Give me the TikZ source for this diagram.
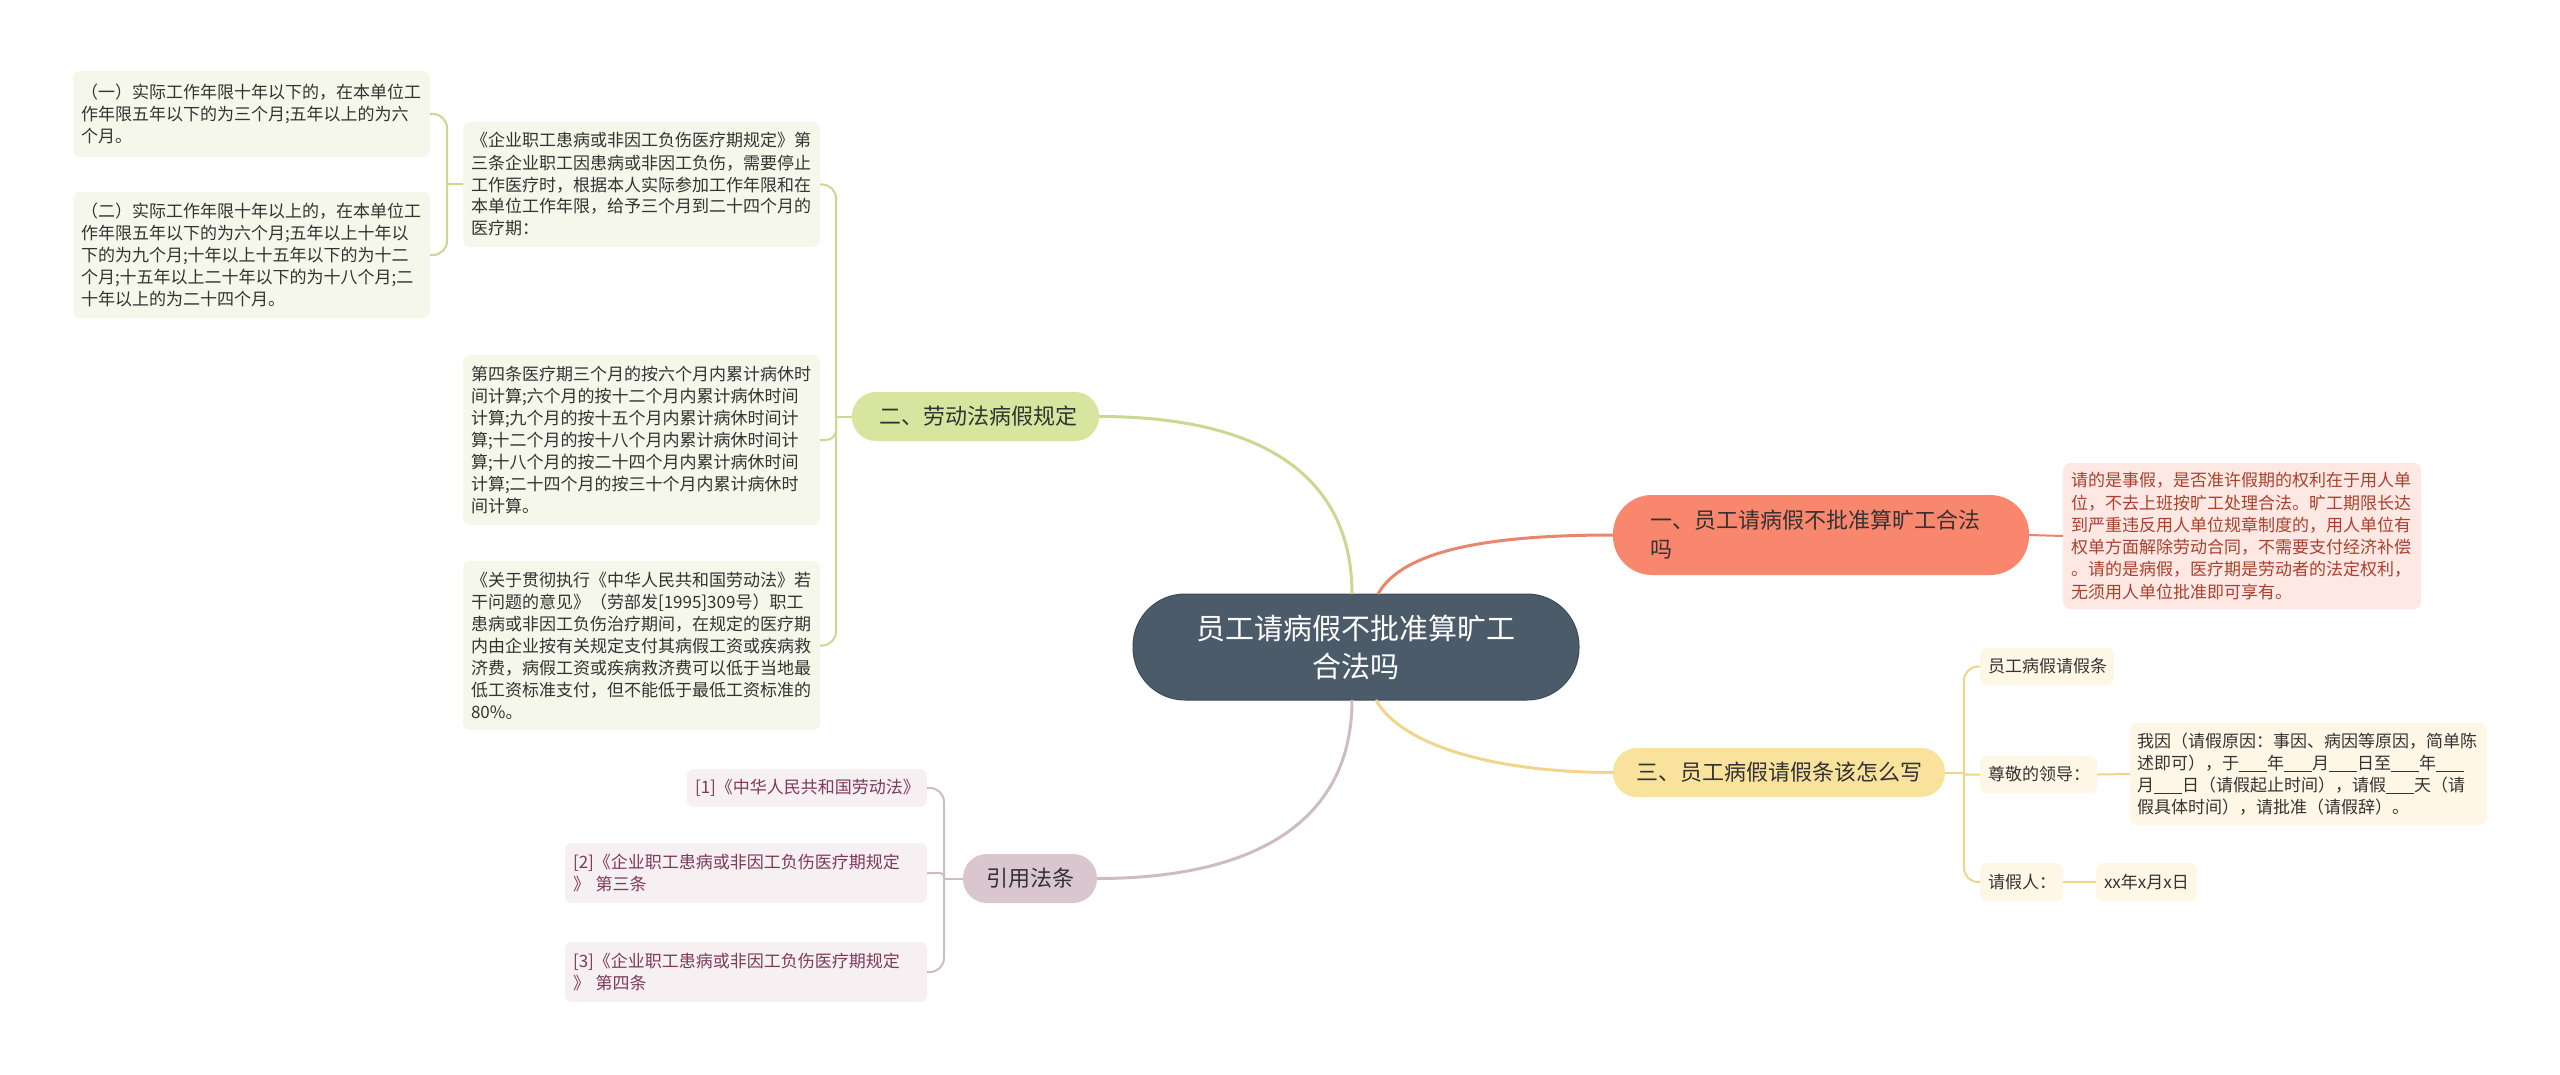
\documentclass[tikz,border=0pt]{standalone}
\usepackage{fontspec}
\setmainfont{Noto Sans CJK SC}
\usetikzlibrary{calc}
\definecolor{txt}{HTML}{333333}
\definecolor{cfill}{HTML}{4B5B6A}
\definecolor{cdraw}{HTML}{3E4C59}
\definecolor{orf}{HTML}{F8876E}
\definecolor{orl}{HTML}{E8866E}
\definecolor{pkf}{HTML}{FDE8E3}
\definecolor{pkt}{HTML}{A9412E}
\definecolor{grf}{HTML}{D7E59E}
\definecolor{grleaf}{HTML}{F4F7E9}
\definecolor{grl}{HTML}{C8DA8F}
\definecolor{yef}{HTML}{F9E29C}
\definecolor{yeleaf}{HTML}{FEF7E6}
\definecolor{yel}{HTML}{F1D68A}
\definecolor{mvf}{HTML}{DAC6CE}
\definecolor{mvleaf}{HTML}{F6F0F2}
\definecolor{mvl}{HTML}{CDBCC3}
\definecolor{mvt}{HTML}{7D3A5A}
\newcommand\blnk{\rule[-3pt]{28pt}{0.9pt}}
\begin{document}
\begin{tikzpicture}[x=1pt,y=-1pt,
  every node/.style={inner sep=0pt, outer sep=0pt},
  lf/.style={rectangle, rounded corners=7pt, anchor=north west, inner xsep=8pt, inner ysep=0pt, align=left, font=\fontsize{17pt}{22pt}\selectfont, text=txt},
  br/.style={rectangle, anchor=north west, inner ysep=0pt, align=left, font=\fontsize{22pt}{29pt}\selectfont, text=txt},
  cn/.style={line width=2pt},
  mn/.style={line width=3pt}
]
\path[use as bounding box, fill=white] (0,0) rectangle (2560,1075);

% center
\node[rectangle, rounded corners=52pt, fill=cfill, draw=cdraw, line width=1pt, minimum width=446pt, minimum height=106pt, align=center, text=white, font=\fontsize{29pt}{38pt}\selectfont] (c) at (1356,647) {员工请病假不批准算旷工\\合法吗};

% branch 1
\node[br, fill=orf, rounded corners=39pt, minimum width=416pt, minimum height=80pt, inner xsep=37pt, text width=342pt] (b1) at (1613,495) {一、员工请病假不批准算旷工合法\\吗};
\node[lf, fill=pkf, text=pkt, minimum width=358pt, minimum height=146pt, text width=342pt, font=\fontsize{17pt}{22.3pt}\selectfont] (p1) at (2063,463) {请的是事假，是否准许假期的权利在于用人单\\位，不去上班按旷工处理合法。旷工期限长达\\到严重违反用人单位规章制度的，用人单位有\\权单方面解除劳动合同，不需要支付经济补偿\\。请的是病假，医疗期是劳动者的法定权利，\\无须用人单位批准即可享有。};

% branch 2
\node[br, fill=grf, rounded corners=24pt, minimum width=247pt, minimum height=49pt, inner xsep=27pt, text width=193pt] (b2) at (852,392) {二、劳动法病假规定};
\node[lf, fill=grleaf, minimum width=357pt, minimum height=125pt, text width=341pt] (a) at (463,122) {《企业职工患病或非因工负伤医疗期规定》第\\三条企业职工因患病或非因工负伤，需要停止\\工作医疗时，根据本人实际参加工作年限和在\\本单位工作年限，给予三个月到二十四个月的\\医疗期：};
\node[lf, fill=grleaf, minimum width=357pt, minimum height=170pt, text width=341pt] (bb) at (463,355) {第四条医疗期三个月的按六个月内累计病休时\\间计算;六个月的按十二个月内累计病休时间\\计算;九个月的按十五个月内累计病休时间计\\算;十二个月的按十八个月内累计病休时间计\\算;十八个月的按二十四个月内累计病休时间\\计算;二十四个月的按三十个月内累计病休时\\间计算。};
\node[lf, fill=grleaf, minimum width=357pt, minimum height=169pt, text width=341pt] (cc) at (463,561) {《关于贯彻执行《中华人民共和国劳动法》若\\干问题的意见》（劳部发[1995]309号）职工\\患病或非因工负伤治疗期间，在规定的医疗期\\内由企业按有关规定支付其病假工资或疾病救\\济费，病假工资或疾病救济费可以低于当地最\\低工资标准支付，但不能低于最低工资标准的\\80\%。};
\node[lf, fill=grleaf, minimum width=357pt, minimum height=86pt, text width=341pt] (l1) at (73,71) {（一）实际工作年限十年以下的，在本单位工\\作年限五年以下的为三个月;五年以上的为六\\个月。};
\node[lf, fill=grleaf, minimum width=357pt, minimum height=126pt, text width=341pt] (l2) at (73,192) {（二）实际工作年限十年以上的，在本单位工\\作年限五年以下的为六个月;五年以上十年以\\下的为九个月;十年以上十五年以下的为十二\\个月;十五年以上二十年以下的为十八个月;二\\十年以上的为二十四个月。};

% branch 3
\node[br, fill=yef, rounded corners=24pt, minimum width=332pt, minimum height=49pt, inner xsep=23pt, text width=286pt] (b3) at (1613,748) {三、员工病假请假条该怎么写};
\node[lf, fill=yeleaf, minimum width=134pt, minimum height=37pt, text width=118pt] (k1) at (1980,648) {员工病假请假条};
\node[lf, fill=yeleaf, minimum width=117pt, minimum height=37pt, text width=101pt] (k2) at (1980,756) {尊敬的领导：};
\node[lf, fill=yeleaf, minimum width=357pt, minimum height=102pt, text width=343pt, inner xsep=7pt] (k2a) at (2130,723) {我因（请假原因：事因、病因等原因，简单陈\\述即可），于\blnk 年\blnk 月\blnk 日至\blnk 年\blnk\\月\blnk 日（请假起止时间），请假\blnk 天（请\\假具体时间），请批准（请假辞）。};
\node[lf, fill=yeleaf, minimum width=83pt, minimum height=38pt, text width=67pt] (k3) at (1980,863) {请假人：};
\node[lf, fill=yeleaf, minimum width=101pt, minimum height=38pt, text width=85pt] (k3a) at (2096,863) {xx年x月x日};

% branch 4
\node[br, fill=mvf, rounded corners=24pt, minimum width=134pt, minimum height=49pt, inner xsep=23pt, text width=88pt] (b4) at (963,854) {引用法条};
\node[lf, fill=mvleaf, text=mvt, minimum width=240pt, minimum height=38pt, text width=224pt] (r1) at (687,769) {[1]《中华人民共和国劳动法》};
\node[lf, fill=mvleaf, text=mvt, minimum width=362pt, minimum height=60pt, text width=346pt] (r2) at (565,843) {[2]《企业职工患病或非因工负伤医疗期规定\\》 第三条};
\node[lf, fill=mvleaf, text=mvt, minimum width=362pt, minimum height=60pt, text width=346pt] (r3) at (565,942) {[3]《企业职工患病或非因工负伤医疗期规定\\》 第四条};

% main connectors
\draw[mn, grl] ($(c.north)+(-4,0)$) .. controls +(0,-120) and +(160,0) .. (b2.east);
\draw[mn, orl] ($(c.north)+(22,0)$) .. controls +(25,-45) and +(-120,0) .. (b1.west);
\draw[mn, yel] ($(c.south)+(20,0)$) .. controls +(25,45) and +(-120,0) .. (b3.west);
\draw[mn, mvl] ($(c.south)+(-4,0)$) .. controls +(0,120) and +(160,0) .. (b4.east);

% branch 1 connector
\draw[cn, orl] (b1.east) -- (p1.west);

% branch 2 tree
\coordinate (s2) at ($(b2.west)+(-16,0)$);
\draw[cn, grl] (b2.west) -- (s2);
\draw[cn, grl, rounded corners=14pt] (s2) |- (a.east);
\draw[cn, grl, rounded corners=10pt] (s2) |- (bb.east);
\draw[cn, grl, rounded corners=14pt] (s2) |- (cc.east);
\coordinate (sa) at ($(a.west)+(-16,0)$);
\draw[cn, grl] (a.west) -- (sa);
\draw[cn, grl, rounded corners=14pt] (sa) |- (l1.east);
\draw[cn, grl, rounded corners=14pt] (sa) |- (l2.east);

% branch 3 tree
\coordinate (s3) at ($(b3.east)+(19,0)$);
\draw[cn, yel] (b3.east) -- (s3);
\draw[cn, yel, rounded corners=14pt] (s3) |- (k1.west);
\draw[cn, yel, rounded corners=2pt] (s3) |- (k2.west);
\draw[cn, yel, rounded corners=14pt] (s3) |- (k3.west);
\draw[cn, yel] (k2.east) -- (k2a.west);
\draw[cn, yel] (k3.east) -- (k3a.west);

% branch 4 tree
\coordinate (s4) at ($(b4.west)+(-19,0)$);
\draw[cn, mvl] (b4.west) -- (s4);
\draw[cn, mvl, rounded corners=14pt] (s4) |- (r1.east);
\draw[cn, mvl, rounded corners=4pt] (s4) |- (r2.east);
\draw[cn, mvl, rounded corners=14pt] (s4) |- (r3.east);
\end{tikzpicture}
\end{document}
